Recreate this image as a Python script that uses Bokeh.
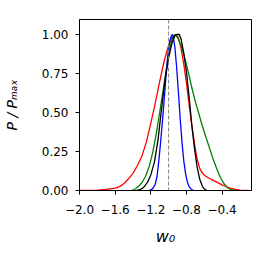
from bokeh.plotting import figure
from bokeh.models import Range1d, Span, FixedTicker
from bokeh.embed import file_html
from bokeh.resources import INLINE

# ---- data ----
red_x = [-2.0, -1.9, -1.8, -1.7, -1.6, -1.55, -1.5, -1.45, -1.4, -1.35, -1.3, -1.25, -1.2,
         -1.15, -1.1, -1.05, -1.0, -0.96, -0.92, -0.89, -0.86, -0.83, -0.8, -0.77, -0.74,
         -0.71, -0.68, -0.65, -0.62, -0.59, -0.55, -0.5, -0.45, -0.4, -0.35, -0.3, -0.25,
         -0.2, -0.1]
red_y = [0.0, 0.001, 0.003, 0.007, 0.015, 0.025, 0.045, 0.075, 0.11, 0.16, 0.22, 0.31, 0.43,
         0.56, 0.70, 0.83, 0.93, 0.985, 1.0, 0.98, 0.91, 0.81, 0.69, 0.55, 0.42,
         0.30, 0.20, 0.14, 0.11, 0.095, 0.08, 0.065, 0.05, 0.036, 0.024, 0.014, 0.007,
         0.003, 0.0]

green_x = [-1.42, -1.38, -1.34, -1.3, -1.26, -1.22, -1.18, -1.14, -1.1, -1.06, -1.02, -0.98,
           -0.95, -0.93, -0.9, -0.86, -0.82, -0.78, -0.74, -0.7, -0.66, -0.62, -0.58, -0.54,
           -0.5, -0.46, -0.42, -0.38, -0.34, -0.3, -0.26]
green_y = [0.0, 0.008, 0.025, 0.05, 0.09, 0.15, 0.24, 0.36, 0.50, 0.65, 0.80, 0.93,
           0.99, 1.0, 0.98, 0.93, 0.85, 0.76, 0.66, 0.57, 0.49, 0.41, 0.34, 0.27,
           0.20, 0.14, 0.085, 0.045, 0.018, 0.005, 0.0]

blue_x = [-1.22, -1.18, -1.15, -1.13, -1.11, -1.09, -1.07, -1.05, -1.03, -1.01, -0.99, -0.97,
          -0.96, -0.95, -0.93, -0.91, -0.89, -0.87, -0.85, -0.83, -0.81, -0.79, -0.77, -0.75,
          -0.72]
blue_y = [0.0, 0.01, 0.04, 0.09, 0.19, 0.31, 0.44, 0.58, 0.73, 0.86, 0.95, 0.99,
          1.0, 0.99, 0.92, 0.79, 0.63, 0.46, 0.31, 0.19, 0.11, 0.055, 0.025, 0.01,
          0.0]

black_x = [-1.36, -1.32, -1.28, -1.24, -1.2, -1.16, -1.12, -1.08, -1.04, -1.0, -0.96, -0.93,
           -0.91, -0.88, -0.86, -0.83, -0.8, -0.77, -0.74, -0.71, -0.68, -0.65, -0.62, -0.6,
           -0.57]
black_y = [0.0, 0.005, 0.02, 0.05, 0.10, 0.18, 0.32, 0.52, 0.71, 0.85, 0.95, 0.99,
           1.0, 1.0, 0.97, 0.88, 0.76, 0.60, 0.42, 0.27, 0.15, 0.07, 0.025, 0.01,
           0.0]

ref_w0 = -1.0

x_ticks = [-2.0, -1.6, -1.2, -0.8, -0.4]
x_tick_labels = ["\u22122.0", "\u22121.6", "\u22121.2", "\u22120.8", "\u22120.4"]
y_ticks = [0.0, 0.25, 0.5, 0.75, 1.0]
y_tick_labels = ["0.00", "0.25", "0.50", "0.75", "1.00"]

x_label = "w\u2080"
y_label = "P / P\u2098\u2090\u2093"

# ---- figure ----
p = figure(width=262, height=254, output_backend="svg", toolbar_location=None,
           x_range=Range1d(-2.0, -0.07), y_range=Range1d(0.0, 1.096),
           min_border_left=79, min_border_right=11, min_border_top=19, min_border_bottom=64)
p.background_fill_color = "white"
p.border_fill_color = "white"
p.outline_line_color = "black"
p.outline_line_width = 1
p.grid.visible = False

series = [(red_x, red_y, "red"), (green_x, green_y, "green"),
          (blue_x, blue_y, "blue"), (black_x, black_y, "black")]
for xs, ys, c in series:
    p.line(xs, ys, line_color=c, line_width=1.3)

p.add_layout(Span(location=ref_w0, dimension="height", line_color="gray",
                  line_width=1, line_dash="4 2"))

p.xaxis.ticker = FixedTicker(ticks=x_ticks)
p.xaxis.major_label_overrides = dict(zip(x_ticks, x_tick_labels))
p.yaxis.ticker = FixedTicker(ticks=y_ticks)
p.yaxis.major_label_overrides = dict(zip(y_ticks, y_tick_labels))

for ax in (p.xaxis, p.yaxis):
    ax.minor_tick_line_color = None
    ax.major_tick_in = 0
    ax.major_tick_out = 4
    ax.major_tick_line_color = "black"
    ax.axis_line_color = "black"
    ax.major_label_text_font = "DejaVu Sans"
    ax.major_label_text_font_size = "12px"
    ax.major_label_text_color = "black"
    ax.axis_label_text_font = "DejaVu Sans"
    ax.axis_label_text_font_style = "italic"
    ax.axis_label_text_color = "black"

p.xaxis.axis_label = x_label
p.xaxis.axis_label_text_font_size = "16px"
p.xaxis.axis_label_standoff = 10
p.xaxis.major_label_standoff = 10
p.yaxis.axis_label = y_label
p.yaxis.axis_label_text_font_size = "14px"
p.yaxis.axis_label_standoff = 19
p.yaxis.major_label_standoff = 7

open("out.html", "w").write(file_html(p, INLINE))
